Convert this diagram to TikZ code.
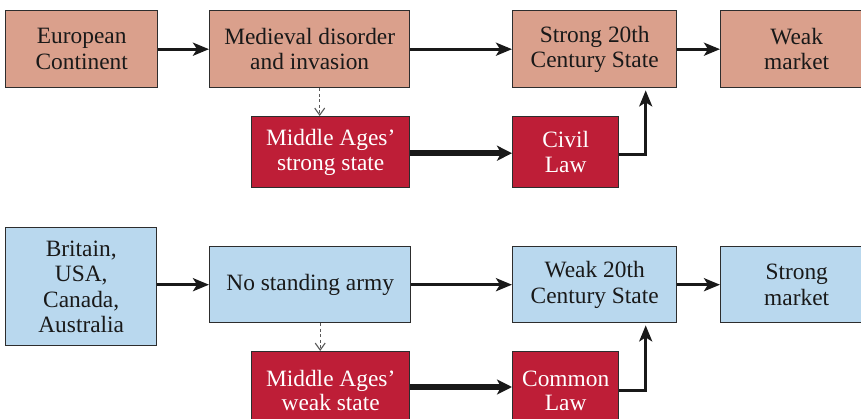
\documentclass[tikz,border=0pt]{standalone}
\usepackage{fontspec}
\setmainfont{Liberation Serif}
\usetikzlibrary{arrows.meta}
\definecolor{salmon}{RGB}{218,160,140}
\definecolor{blu}{RGB}{185,216,238}
\definecolor{redbox}{RGB}{190,30,55}
\definecolor{edge}{RGB}{45,45,45}
\tikzset{
  box/.style={draw=edge, line width=1.4pt, anchor=north west, align=center, inner sep=0pt,
    font=\fontsize{23.4}{25.5}\selectfont},
  sbox/.style={box, fill=salmon, text=black!90},
  bbox/.style={box, fill=blu, text=black!90},
  rbox/.style={box, fill=redbox, text=white},
  arr/.style={draw=black!90, line width=3pt, -{Stealth[length=16pt,width=13pt,inset=4pt]}},
  thick arr/.style={draw=black!90, line width=5.5pt, -{Stealth[length=15pt,width=15pt,inset=4pt]}},
  dash arr/.style={draw=black!65, line width=1.1pt, dashed, dash pattern=on 3pt off 2.5pt, -{Straight Barb[length=7pt,width=10pt]}},
}
\begin{document}
\begin{tikzpicture}[x=1pt,y=-1pt]
\useasboundingbox (0,0) rectangle (861,419);
\clip (0,0) rectangle (861,419);
% top row
\node[sbox, minimum width=152, minimum height=77] (euro) at (5,10) {European\\Continent};
\node[sbox, minimum width=200, minimum height=77] (med) at (209,10) {Medieval disorder\\and invasion};
\node[sbox, minimum width=164, minimum height=77] (strong) at (512,10) {Strong 20th\\Century State};
\node[sbox, minimum width=152, minimum height=77, text width=118] (weakm) at (720,10) {Weak\\market};
\node[rbox, minimum width=158, minimum height=71] (mas) at (251,116) {Middle Ages'\\strong state};
\node[rbox, minimum width=106, minimum height=71] (civil) at (512,116) {Civil\\Law};
% bottom row
\node[bbox, minimum width=151, minimum height=118] (brit) at (5,227) {Britain,\\USA,\\Canada,\\Australia};
\node[bbox, minimum width=201, minimum height=76] (army) at (209,246) {No standing army};
\node[bbox, minimum width=164, minimum height=76] (weak) at (512,246) {Weak 20th\\Century State};
\node[bbox, minimum width=152, minimum height=76, text width=118] (strongm) at (720,246) {Strong\\market};
\node[rbox, minimum width=158, minimum height=90] (maw) at (251,351) {\raisebox{26pt}{\begin{tabular}{@{}c@{}}Middle Ages'\\[-1.5pt]weak state\end{tabular}}};
\node[rbox, minimum width=106, minimum height=90] (common) at (512,351) {\raisebox{26pt}{\begin{tabular}{@{}c@{}}Common\\[-1.5pt]Law\end{tabular}}};
% connectors top
\draw[arr] (euro.east) -- (med.west);
\draw[arr] (med.east) -- (strong.west);
\draw[arr] (strong.east) -- (weakm.west);
\draw[dash arr] ([xshift=10pt]med.south) -- ([xshift=10pt]med.south |- mas.north);
\draw[thick arr] ([yshift=-1pt]mas.east) -- ([yshift=-1pt]mas.east -| civil.west);
\draw[arr] ([yshift=-2pt]civil.east) -| ([xshift=51pt,yshift=-2pt]strong.south);
% connectors bottom
\draw[arr] (brit.east |- army.west) -- (army.west);
\draw[arr] (army.east) -- (weak.west);
\draw[arr] (weak.east) -- (strongm.west);
\draw[dash arr] ([xshift=10pt]army.south) -- ([xshift=10pt]army.south |- maw.north);
\draw[thick arr] ([yshift=-36pt]maw.north east) -- ([yshift=-36pt]maw.north east -| common.west);
\draw[arr] ([yshift=-39pt]common.north east) -| ([xshift=51pt,yshift=-2pt]weak.south);
\end{tikzpicture}
\end{document}
